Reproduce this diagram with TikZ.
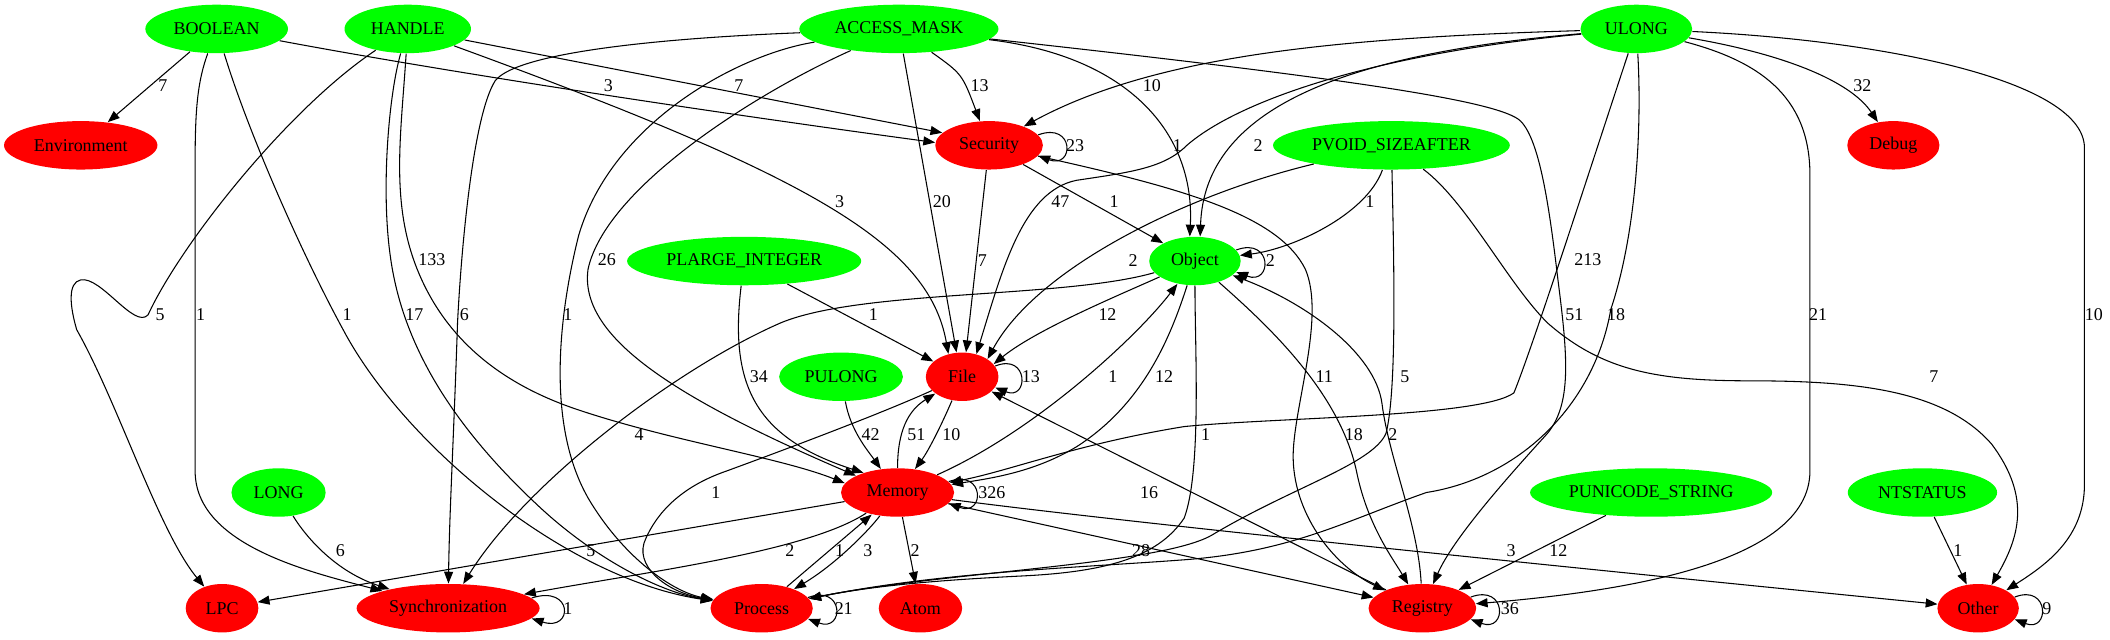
\documentclass[tikz,border=0pt]{standalone}
\usepackage{fontspec}
\setmainfont{Liberation Serif}
\usetikzlibrary{shapes.geometric,arrows.meta}
\definecolor{gGreen}{RGB}{0,255,0}
\definecolor{rRed}{RGB}{255,0,0}
\newcommand\gvfont{\fontsize{7.6}{8}\selectfont}
\begin{document}
\begin{tikzpicture}[x=0.02cm,y=-0.02cm,
  gn/.style={ellipse, fill=gGreen, inner sep=0pt, minimum height=0.72cm, font=\gvfont},
  rn/.style={ellipse, fill=rRed, inner sep=0pt, minimum height=0.72cm, font=\gvfont},
  e/.style={-{Triangle[length=5pt,width=3.8pt]}, line width=0.45pt},
  lb/.style={inner sep=0pt, font=\gvfont}]
\useasboundingbox (0,0) rectangle (1568,475);
% nodes
\node[gn, minimum width=2.12cm] (BOOL) at (161,21.5) {BOOLEAN};
\node[gn, minimum width=1.88cm] (HAND) at (303,21.5) {HANDLE};
\node[gn, minimum width=2.96cm] (AM) at (668,21.5) {ACCESS\_MASK};
\node[gn, minimum width=1.66cm] (ULONG) at (1216,21.5) {ULONG};
\node[rn, minimum width=2.28cm] (ENV) at (60,108) {Environment};
\node[rn, minimum width=1.6cm] (SEC) at (735,108) {Security};
\node[gn, minimum width=3.52cm] (PVOID) at (1034,108) {PVOID\_SIZEAFTER};
\node[rn, minimum width=1.37cm] (DBG) at (1407,108) {Debug};
\node[gn, minimum width=3.48cm] (PLI) at (553,194) {PLARGE\_INTEGER};
\node[gn, minimum width=1.36cm] (OBJ) at (888,194) {Object};
\node[gn, minimum width=1.84cm] (PUL) at (625,280) {PULONG};
\node[rn, minimum width=1.08cm] (FILE) at (715,280) {File};
\node[gn, minimum width=1.4cm] (LONG) at (207,366) {LONG};
\node[rn, minimum width=1.68cm] (MEM) at (667,366) {Memory};
\node[gn, minimum width=3.6cm] (PUS) at (1227,366) {PUNICODE\_STRING};
\node[gn, minimum width=2.22cm] (NTS) at (1428.6,366) {NTSTATUS};
\node[rn, minimum width=1.08cm] (LPC) at (165,452) {LPC};
\node[rn, minimum width=2.72cm] (SYNC) at (333,452) {Synchronization};
\node[rn, minimum width=1.52cm] (PROC) at (566,452) {Process};
\node[rn, minimum width=1.24cm] (ATOM) at (684,452) {Atom};
\node[rn, minimum width=1.6cm] (REG) at (1057,452) {Registry};
\node[rn, minimum width=1.21cm] (OTH) at (1470,452) {Other};
% BOOLEAN
\draw[e] (BOOL) -- (ENV);
\draw[e] (BOOL) .. controls (340,55) and (540,85) .. (SEC.177);
\draw[e] (BOOL) .. controls (147,60) and (145,80) .. (145,120) -- (145,350) .. controls (145,405) and (230,425) .. (SYNC);
\draw[e] (BOOL) .. controls (185,100) and (225,190) .. (255,245) .. controls (300,330) and (420,430) .. (PROC);
% HANDLE
\draw[e] (HAND) .. controls (215,80) and (135,180) .. (110,234) .. controls (100,245) and (75,205) .. (60,208) .. controls (50,210) and (52,228) .. (57,245) .. controls (88,300) and (118,395) .. (LPC);
\draw[e] (HAND) -- (SEC.165);
\draw[e] (HAND) .. controls (600,130) and (690,180) .. (FILE.121);
\draw[e] (HAND) .. controls (298,100) and (290,150) .. (310,200) .. controls (330,250) and (370,285) .. (431,305) .. controls (500,328) and (580,340) .. (MEM.170);
\draw[e] (HAND) .. controls (289,70) and (283,140) .. (290,190) .. controls (298,250) and (330,310) .. (398,374) .. controls (440,414) and (490,440) .. (PROC);
% ACCESS_MASK
\draw[e] (AM) .. controls (500,28) and (385,38) .. (368,60) .. controls (352,85) and (343,180) .. (340,240) .. controls (337,330) and (334,380) .. (SYNC);
\draw[e] (AM) .. controls (550,40) and (455,90) .. (430,175) .. controls (415,235) and (405,320) .. (440,375) .. controls (465,415) and (500,440) .. (PROC);
\draw[e] (AM) .. controls (560,70) and (450,140) .. (437,200) .. controls (430,250) and (500,295) .. (MEM.158);
\draw[e] (AM) -- (FILE.103);
\draw[e] (AM) .. controls (715,55) .. (SEC);
\draw[e] (AM) .. controls (840,42) and (888,100) .. (OBJ.102);
\draw[e] (AM) .. controls (1000,58) and (1115,75) .. (1130,90) .. controls (1145,105) and (1152,160) .. (1158,210) .. controls (1165,265) and (1168,300) .. (1150,322) .. controls (1120,355) and (1080,400) .. (REG);
% ULONG
\draw[e] (ULONG) .. controls (1000,28) and (860,40) .. (SEC);
\draw[e] (ULONG) .. controls (1020,40) and (920,75) .. (882,108) .. controls (865,125) and (840,128) .. (800,134) .. controls (760,142) and (745,200) .. (FILE.58);
\draw[e] (ULONG) .. controls (1000,40) and (895,80) .. (OBJ.78);
\draw[e] (ULONG) .. controls (1185,115) and (1140,255) .. (1125,292) .. controls (1100,310) and (950,310) .. (880,317) .. controls (800,330) and (750,350) .. (MEM);
\draw[e] (ULONG) .. controls (1220,90) and (1217,170) .. (1197,230) .. controls (1185,300) and (1130,355) .. (1060,366) .. controls (1000,387) and (960,410) .. (880,416) .. controls (800,422) and (700,425) .. (PROC);
\draw[e] (ULONG) .. controls (1305,45) and (1345,70) .. (1345,130) -- (1345,350) .. controls (1345,420) and (1200,440) .. (REG);
\draw[e] (ULONG) .. controls (1325,40) and (1375,60) .. (DBG);
\draw[e] (ULONG) .. controls (1400,30) and (1549,60) .. (1549,110) -- (1549,360) .. controls (1549,400) and (1520,420) .. (OTH);
% PVOID_SIZEAFTER
\draw[e] (PVOID) .. controls (880,145) and (770,200) .. (FILE.35);
\draw[e] (PVOID) .. controls (1015,160) and (960,185) .. (OBJ);
\draw[e] (PVOID) .. controls (1036,200) and (1038,290) .. (1030,322) .. controls (1020,345) and (960,362) .. (900,398) .. controls (860,420) and (700,425) .. (PROC);
\draw[e] (PVOID) .. controls (1090,150) and (1120,210) .. (1150,240) .. controls (1190,275) and (1230,283) .. (1300,283) .. controls (1380,283) and (1445,290) .. (1480,330) .. controls (1510,370) and (1500,400) .. (OTH);
% Security
\draw[e] (SEC.12) .. controls +(27,-10) and +(27,10) .. (SEC.-12);
\draw[e] (SEC) -- (FILE.81);
\draw[e] (SEC) -- (OBJ);
\draw[e] (SEC) .. controls (880,140) and (950,160) .. (970,200) .. controls (985,235) and (962,300) .. (961,337) .. controls (960,380) and (990,420) .. (REG);
% PLARGE_INTEGER
\draw[e] (PLI) -- (FILE);
\draw[e] (PLI) .. controls (542,285) and (560,325) .. (MEM.150);
% Object
\draw[e] (OBJ.15) .. controls +(27,-10) and +(27,10) .. (OBJ.-15);
\draw[e] (OBJ) .. controls (830,220) and (770,245) .. (FILE.22);
\draw[e] (OBJ) .. controls (870,250) and (850,300) .. (800,332) .. controls (770,350) and (740,355) .. (MEM);
\draw[e] (OBJ) .. controls (790,222) and (640,215) .. (580,240) .. controls (500,275) and (390,360) .. (SYNC);
\draw[e] (OBJ) .. controls (888,260) and (893,350) .. (880,385) .. controls (860,415) and (820,425) .. (760,428) .. controls (700,431) and (650,435) .. (PROC);
\draw[e] (OBJ) .. controls (940,240) and (995,290) .. (1008,350) .. controls (1016,390) and (1035,415) .. (REG);
% PULONG, File, LONG
\draw[e] (PUL) .. controls (632,320) and (645,335) .. (MEM);
\draw[e] (FILE.18) .. controls +(25,-10) and +(25,10) .. (FILE.-18);
\draw[e] (FILE) .. controls (700,315) and (690,335) .. (MEM);
\draw[e] (FILE) .. controls (660,305) and (600,328) .. (540,350) .. controls (505,362) and (488,382) .. (480,400) .. controls (470,420) and (495,440) .. (PROC);
\draw[e] (LONG) .. controls (228,400) and (250,425) .. (SYNC);
% Memory
\draw[e] (MEM.12) .. controls +(27,-10) and +(27,10) .. (MEM.-12);
\draw[e] (MEM) .. controls (667,320) and (675,305) .. (FILE);
\draw[e] (MEM) .. controls (770,320) and (845,250) .. (OBJ);
\draw[e] (MEM) -- (LPC);
\draw[e] (MEM) .. controls (600,410) and (480,425) .. (SYNC);
\draw[e] (MEM) .. controls (645,395) and (620,420) .. (PROC);
\draw[e] (MEM) -- (ATOM);
\draw[e] (MEM) -- (REG);
\draw[e] (MEM) .. controls (850,390) and (1200,425) .. (OTH);
% Process
\draw[e] (PROC.13) .. controls +(27,-10) and +(27,10) .. (PROC.-13);
\draw[e] (PROC) -- (MEM);
% Registry
\draw[e] (REG.13) .. controls +(27,-10) and +(27,10) .. (REG.-13);
\draw[e] (REG) -- (FILE);
\draw[e] (REG) .. controls (1054,390) and (1032,340) .. (1027,300) .. controls (1022,262) and (970,225) .. (OBJ);
% others
\draw[e] (PUS) -- (REG);
\draw[e] (NTS) -- (OTH);
\draw[e] (SYNC.7) .. controls +(31,-10) and +(31,10) .. (SYNC.-7);
\draw[e] (OTH.17) .. controls +(26,-10) and +(26,10) .. (OTH.-17);
% labels
\node[lb] (L1) at (121,64) {7};
\node[lb] (L2) at (452,64) {3};
\node[lb] (L3) at (549,64) {7};
\node[lb] (L4) at (728,64) {13};
\node[lb] (L5) at (856,64) {10};
\node[lb] (L6) at (1384,64) {32};
\node[lb] (L7) at (799,108) {23};
\node[lb] (L8) at (875,108) {1};
\node[lb] (L9) at (935,108) {2};
\node[lb] (L10) at (624,150) {3};
\node[lb] (L11) at (700,150) {20};
\node[lb] (L12) at (788,150) {47};
\node[lb] (L13) at (828,150) {1};
\node[lb] (L14) at (1018,150) {1};
\node[lb] (L15) at (321,193) {133};
\node[lb] (L16) at (451,193) {26};
\node[lb] (L17) at (730,194) {7};
\node[lb] (L18) at (842,194) {2};
\node[lb] (L19) at (944,194) {2};
\node[lb] (L20) at (1180,193) {213};
\node[lb] (L21) at (119,234) {5};
\node[lb] (L22) at (149,234) {1};
\node[lb] (L23) at (258,234) {1};
\node[lb] (L24) at (308,234) {17};
\node[lb] (L25) at (345,234) {6};
\node[lb] (L26) at (422,234) {1};
\node[lb] (L27) at (649,234) {1};
\node[lb] (L28) at (823,234) {12};
\node[lb] (L29) at (1170,234) {51};
\node[lb] (L30) at (1201,234) {18};
\node[lb] (L31) at (1351,234) {21};
\node[lb] (L32) at (1556,234) {10};
\node[lb] (L33) at (564,280) {34};
\node[lb] (L34) at (766,280) {13};
\node[lb] (L35) at (827,280) {1};
\node[lb] (L36) at (865,280) {12};
\node[lb] (L37) at (984,280) {11};
\node[lb] (L38) at (1044,280) {5};
\node[lb] (L39) at (1437,280) {7};
\node[lb] (L40) at (475,323) {4};
\node[lb] (L41) at (647,323) {42};
\node[lb] (L42) at (681,323) {51};
\node[lb] (L43) at (707,323) {10};
\node[lb] (L44) at (896,323) {1};
\node[lb] (L45) at (1006,323) {18};
\node[lb] (L46) at (1035,323) {2};
\node[lb] (L47) at (532,366) {1};
\node[lb] (L48) at (737,366) {326};
\node[lb] (L49) at (854,366) {16};
\node[lb] (L50) at (253,409) {6};
\node[lb] (L51) at (439,409) {5};
\node[lb] (L52) at (587,409) {2};
\node[lb] (L53) at (624,409) {1};
\node[lb] (L54) at (645,409) {3};
\node[lb] (L55) at (680,409) {2};
\node[lb] (L56) at (848,409) {28};
\node[lb] (L57) at (1123,409) {3};
\node[lb] (L58) at (1158,409) {12};
\node[lb] (L59) at (1455,409) {1};
\node[lb] (L60) at (422,452) {1};
\node[lb] (L61) at (627,452) {21};
\node[lb] (L62) at (1122,452) {36};
\node[lb] (L63) at (1521,452) {9};
\end{tikzpicture}
\end{document}
